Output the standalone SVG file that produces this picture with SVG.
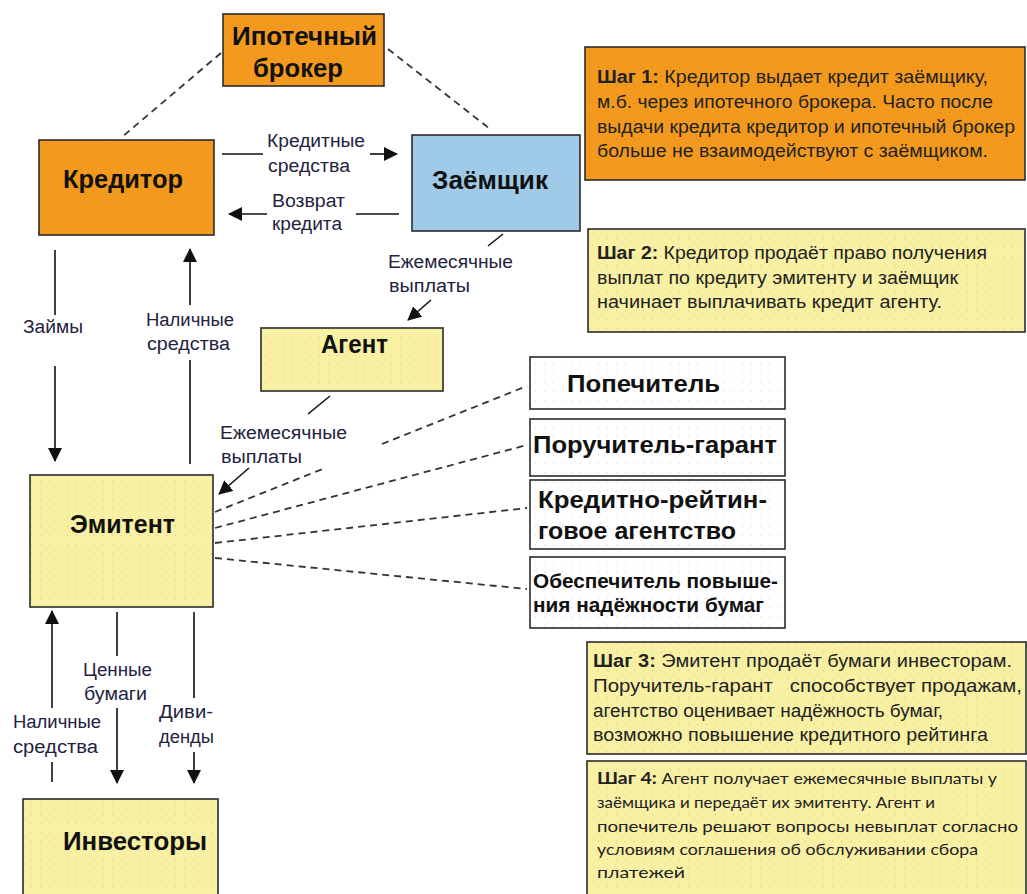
<svg xmlns="http://www.w3.org/2000/svg" width="1027" height="894" viewBox="0 0 1027 894">
<style>
.box{stroke:#2b2b2b;stroke-width:1.6}
.or{fill:#F39A1E}
.bl{fill:#A0CBE8}
.ye{fill:#F8F0A2}
.wh{fill:#ffffff}
.dots{fill:url(#dots)}
.nt{font-family:"Liberation Sans",Arial,sans-serif;font-weight:bold;fill:#111}
.lb{font-family:"Liberation Sans",Arial,sans-serif;font-size:18px;fill:#23233f}
.st{font-family:"Liberation Sans",Arial,sans-serif;font-size:17.5px;fill:#222}
.st4{font-family:Lato,"Open Sans",sans-serif;font-size:16px;fill:#222}
.b{font-weight:bold}
.ln{stroke:#111;stroke-width:1.6;fill:none}
.ds{stroke:#333;stroke-width:1.8;fill:none;stroke-dasharray:7,5}
</style>
<defs>
<pattern id="dots" width="9" height="9" patternUnits="userSpaceOnUse">
<circle cx="4.5" cy="4.5" r="0.7" fill="#000" fill-opacity="0.12"/>
</pattern>
<marker id="ah" markerWidth="14" markerHeight="14" viewBox="0 0 14 14" refX="13" refY="7" orient="auto" markerUnits="userSpaceOnUse">
<path d="M0,0 L14,7 L0,14 Z" fill="#111"/>
</marker>
</defs>

<g id="connectors">
<line class="ds" x1="221" y1="53" x2="122" y2="137"/>
<line class="ds" x1="388" y1="49" x2="490" y2="129"/>
<line class="ln" x1="222" y1="154" x2="263" y2="154"/>
<line class="ln" x1="370" y1="154" x2="397" y2="154" marker-end="url(#ah)"/>
<line class="ln" x1="399" y1="214" x2="356" y2="214"/>
<line class="ln" x1="267" y1="214" x2="229" y2="214" marker-end="url(#ah)"/>
<line class="ln" x1="503" y1="234" x2="488" y2="246"/>
<line class="ln" x1="431" y1="300" x2="408" y2="320" marker-end="url(#ah)"/>
<line class="ln" x1="55" y1="250" x2="55" y2="315"/>
<line class="ln" x1="55" y1="366" x2="55" y2="461" marker-end="url(#ah)"/>
<line class="ln" x1="190" y1="305" x2="190" y2="249" marker-end="url(#ah)"/>
<line class="ln" x1="190" y1="464" x2="190" y2="360"/>
<line class="ln" x1="330" y1="396" x2="308" y2="414"/>
<line class="ln" x1="249" y1="468" x2="219" y2="494" marker-end="url(#ah)"/>
<line class="ds" x1="215" y1="512" x2="325" y2="468"/>
<line class="ds" x1="382" y1="444" x2="527" y2="386"/>
<line class="ds" x1="215" y1="528" x2="527" y2="445"/>
<line class="ds" x1="215" y1="543" x2="527" y2="508"/>
<line class="ds" x1="215" y1="558" x2="527" y2="589"/>
<line class="ln" x1="52" y1="708" x2="52" y2="611" marker-end="url(#ah)"/>
<line class="ln" x1="52" y1="762" x2="52" y2="782"/>
<line class="ln" x1="117" y1="612" x2="117" y2="656"/>
<line class="ln" x1="117" y1="708" x2="117" y2="783" marker-end="url(#ah)"/>
<line class="ln" x1="194" y1="612" x2="194" y2="698"/>
<line class="ln" x1="194" y1="752" x2="194" y2="783" marker-end="url(#ah)"/>
<text class="lb" x="267" y="147" textLength="98" lengthAdjust="spacingAndGlyphs">Кредитные</text>
<text class="lb" x="268" y="172" textLength="82" lengthAdjust="spacingAndGlyphs">средства</text>
<text class="lb" x="272" y="207" textLength="73" lengthAdjust="spacingAndGlyphs">Возврат</text>
<text class="lb" x="272" y="230" textLength="70" lengthAdjust="spacingAndGlyphs">кредита</text>
<text class="lb" x="388" y="268" textLength="125" lengthAdjust="spacingAndGlyphs">Ежемесячные</text>
<text class="lb" x="389" y="292" textLength="81" lengthAdjust="spacingAndGlyphs">выплаты</text>
<text class="lb" x="23" y="333" textLength="60" lengthAdjust="spacingAndGlyphs">Займы</text>
<text class="lb" x="146" y="326" textLength="88" lengthAdjust="spacingAndGlyphs">Наличные</text>
<text class="lb" x="147" y="350" textLength="83" lengthAdjust="spacingAndGlyphs">средства</text>
<text class="lb" x="220" y="439" textLength="127" lengthAdjust="spacingAndGlyphs">Ежемесячные</text>
<text class="lb" x="221" y="463" textLength="81" lengthAdjust="spacingAndGlyphs">выплаты</text>
<text class="lb" x="83" y="676" textLength="69" lengthAdjust="spacingAndGlyphs">Ценные</text>
<text class="lb" x="84" y="700" textLength="63" lengthAdjust="spacingAndGlyphs">бумаги</text>
<text class="lb" x="13" y="728" textLength="88" lengthAdjust="spacingAndGlyphs">Наличные</text>
<text class="lb" x="13" y="753" textLength="85" lengthAdjust="spacingAndGlyphs">средства</text>
<text class="lb" x="159" y="718" textLength="54" lengthAdjust="spacingAndGlyphs">Диви-</text>
<text class="lb" x="159" y="743" textLength="55" lengthAdjust="spacingAndGlyphs">денды</text>
</g>

<g id="broker">
<rect class="box or" x="223" y="14" width="161" height="72"/>
<rect class="dots" x="223" y="14" width="161" height="72"/>
<text class="nt" x="232" y="45" font-size="25" textLength="145" lengthAdjust="spacingAndGlyphs">Ипотечный</text>
<text class="nt" x="253" y="77" font-size="25" textLength="90" lengthAdjust="spacingAndGlyphs">брокер</text>
</g>
<g id="creditor">
<rect class="box or" x="39" y="140" width="175" height="95"/>
<rect class="dots" x="39" y="140" width="175" height="95"/>
<text class="nt" x="63" y="188" font-size="25" textLength="120" lengthAdjust="spacingAndGlyphs">Кредитор</text>
</g>
<g id="borrower">
<rect class="box bl" x="412" y="135" width="168" height="96"/>
<rect class="dots" x="412" y="135" width="168" height="96"/>
<text class="nt" x="432" y="189" font-size="25" textLength="116" lengthAdjust="spacingAndGlyphs">Заёмщик</text>
</g>
<g id="agent">
<rect class="box ye" x="261" y="328" width="182" height="63"/>
<rect class="dots" x="261" y="328" width="182" height="63"/>
<text class="nt" x="321" y="353" font-size="25" textLength="67" lengthAdjust="spacingAndGlyphs">Агент</text>
</g>
<g id="issuer">
<rect class="box ye" x="30" y="475" width="183" height="132"/>
<rect class="dots" x="30" y="475" width="183" height="132"/>
<text class="nt" x="70" y="533" font-size="25" textLength="105" lengthAdjust="spacingAndGlyphs">Эмитент</text>
</g>
<g id="investors">
<rect class="box ye" x="23" y="799" width="195" height="100"/>
<rect class="dots" x="23" y="799" width="195" height="100"/>
<text class="nt" x="63" y="850" font-size="25" textLength="144" lengthAdjust="spacingAndGlyphs">Инвесторы</text>
</g>
<g id="trustee">
<rect class="box wh" x="530" y="357" width="255" height="52"/>
<rect class="dots" x="530" y="357" width="255" height="52"/>
<text class="nt" x="567" y="392" font-size="23" textLength="153" lengthAdjust="spacingAndGlyphs">Попечитель</text>
</g>
<g id="guarantor">
<rect class="box wh" x="530" y="419" width="255" height="57"/>
<rect class="dots" x="530" y="419" width="255" height="57"/>
<text class="nt" x="533" y="453" font-size="23" textLength="244" lengthAdjust="spacingAndGlyphs">Поручитель-гарант</text>
</g>
<g id="rating">
<rect class="box wh" x="530" y="480" width="255" height="69"/>
<rect class="dots" x="530" y="480" width="255" height="69"/>
<text class="nt" x="538" y="508" font-size="23" textLength="229" lengthAdjust="spacingAndGlyphs">Кредитно-рейтин-</text>
<text class="nt" x="538" y="539" font-size="23" textLength="198" lengthAdjust="spacingAndGlyphs">говое агентство</text>
</g>
<g id="enhancer">
<rect class="box wh" x="530" y="557" width="255" height="71"/>
<rect class="dots" x="530" y="557" width="255" height="71"/>
<text class="nt" x="533" y="588" font-size="19.5" textLength="245" lengthAdjust="spacingAndGlyphs">Обеспечитель повыше-</text>
<text class="nt" x="533" y="612" font-size="19.5" textLength="231" lengthAdjust="spacingAndGlyphs">ния надёжности бумаг</text>
</g>
<g id="step1">
<rect class="box or" x="585" y="47" width="440" height="133"/>
<rect class="dots" x="585" y="47" width="440" height="133"/>
<text class="st" x="597" y="83" textLength="391" lengthAdjust="spacingAndGlyphs"><tspan class="b">Шаг 1:</tspan> Кредитор выдает кредит заёмщику,</text>
<text class="st" x="597" y="108" textLength="396" lengthAdjust="spacingAndGlyphs">м.б. через ипотечного брокера. Часто после</text>
<text class="st" x="597" y="133" textLength="418" lengthAdjust="spacingAndGlyphs">выдачи кредита кредитор и ипотечный брокер</text>
<text class="st" x="597" y="157" textLength="391" lengthAdjust="spacingAndGlyphs">больше не взаимодействуют с заёмщиком.</text>
</g>
<g id="step2">
<rect class="box ye" x="588" y="229" width="437" height="103"/>
<rect class="dots" x="588" y="229" width="437" height="103"/>
<text class="st" x="597" y="259" textLength="390" lengthAdjust="spacingAndGlyphs"><tspan class="b">Шаг 2:</tspan> Кредитор продаёт право получения</text>
<text class="st" x="597" y="284" textLength="361" lengthAdjust="spacingAndGlyphs">выплат по кредиту эмитенту и заёмщик</text>
<text class="st" x="597" y="308" textLength="345" lengthAdjust="spacingAndGlyphs">начинает выплачивать кредит агенту.</text>
</g>
<g id="step3">
<rect class="box ye" x="587" y="642" width="439" height="112"/>
<rect class="dots" x="587" y="642" width="439" height="112"/>
<text class="st" x="593" y="667" textLength="419" lengthAdjust="spacingAndGlyphs"><tspan class="b">Шаг 3:</tspan> Эмитент продаёт бумаги инвесторам.</text>
<text class="st" x="593" y="692" textLength="429" lengthAdjust="spacingAndGlyphs" xml:space="preserve">Поручитель-гарант   способствует продажам,</text>
<text class="st" x="593" y="717" textLength="350" lengthAdjust="spacingAndGlyphs">агентство оценивает надёжность бумаг,</text>
<text class="st" x="593" y="741" textLength="395" lengthAdjust="spacingAndGlyphs">возможно повышение кредитного рейтинга</text>
</g>
<g id="step4">
<rect class="box ye" x="587" y="761" width="439" height="140"/>
<rect class="dots" x="587" y="761" width="439" height="140"/>
<text class="st4" x="597" y="784" textLength="400" lengthAdjust="spacingAndGlyphs"><tspan class="b" font-size="17.5">Шаг 4:</tspan> Агент получает ежемесячные выплаты у</text>
<text class="st4" x="597" y="808" textLength="338" lengthAdjust="spacingAndGlyphs">заёмщика и передаёт их эмитенту. Агент и</text>
<text class="st4" x="597" y="832" textLength="421" lengthAdjust="spacingAndGlyphs">попечитель решают вопросы невыплат согласно</text>
<text class="st4" x="597" y="855" textLength="381" lengthAdjust="spacingAndGlyphs">условиям соглашения об обслуживании сбора</text>
<text class="st4" x="597" y="878" textLength="88" lengthAdjust="spacingAndGlyphs">платежей</text>
</g>
</svg>
